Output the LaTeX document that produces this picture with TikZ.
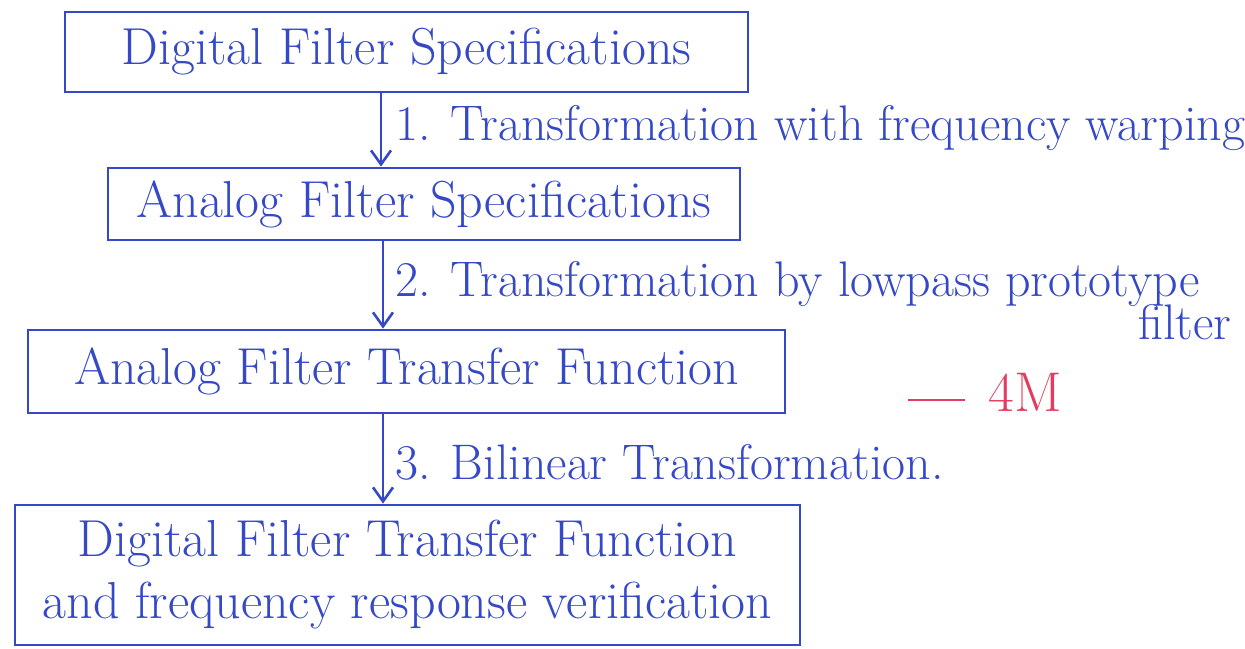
\documentclass[tikz,border=0pt]{standalone}
\usetikzlibrary{arrows.meta}
\definecolor{ink}{RGB}{52,72,200}
\definecolor{redink}{RGB}{228,60,95}
\begin{document}
\begin{tikzpicture}[x=0.5pt,y=-0.5pt,
  box/.style={draw=ink,line width=1.4pt,inner sep=0pt,text=ink,align=center,font=\fontsize{26}{31}\selectfont},
  arr/.style={draw=ink,line width=1.3pt,-{Straight Barb[length=7pt,width=10pt]}},
  lbl/.style={text=ink,anchor=west,inner sep=0pt,font=\fontsize{25}{30}\selectfont}]
\useasboundingbox (0,0) rectangle (1245,648);
\node[box,minimum width=341.5pt,minimum height=40pt] (b1) at (406.5,52) {Digital Filter Specifications};
\node[box,minimum width=316pt,minimum height=36pt] (b2) at (424,204) {Analog Filter Specifications};
\node[box,minimum width=378.5pt,minimum height=41.5pt] (b3) at (406.5,371.5) {Analog Filter Transfer Function};
\node[box,minimum width=392.5pt,minimum height=70pt] (b4) at (407.5,575) {Digital Filter Transfer Function\\ and frequency response verification};
\draw[arr] (b1.south -| 381,0) -- (b2.north -| 381,0);
\draw[arr] (b2.south -| 383,0) -- (b3.north -| 383,0);
\draw[arr] (b3.south -| 383,0) -- (b4.north -| 383,0);
\node[lbl] (l1) at (395,128) {1. Transformation with frequency warping};
\node[lbl] (l2) at (395,284) {2. Transformation by lowpass prototype};
\node[text=ink,inner sep=0pt,font=\fontsize{25}{30}\selectfont] (l2b) at (1185,322) {filter};
\node[lbl] (l3) at (395,462) {3. Bilinear Transformation.};
\coordinate (m1) at (908,400);
\coordinate (m2) at (965,400);
\draw[redink,line width=1.3pt] (m1) -- (m2);
\node[text=redink,anchor=west,inner sep=0pt,font=\fontsize{28}{32}\selectfont] (mk) at (988,392) {4M};
\end{tikzpicture}
\end{document}
